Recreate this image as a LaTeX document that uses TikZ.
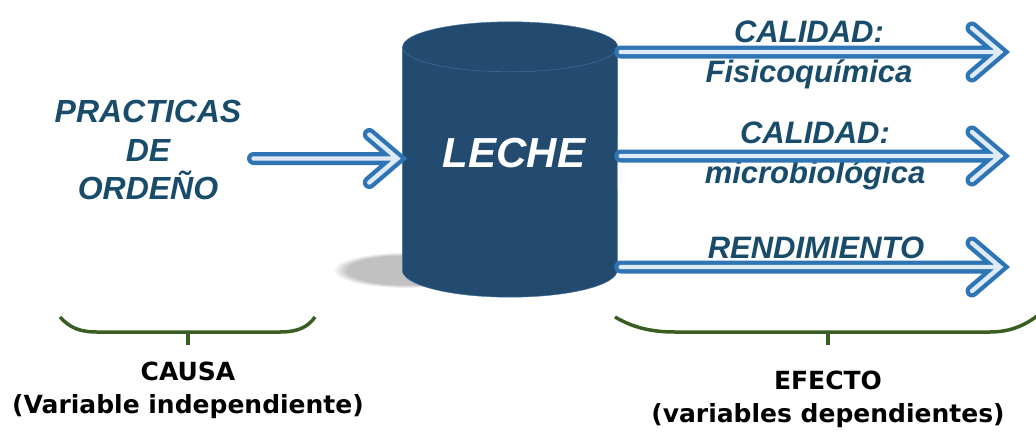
\documentclass[tikz,border=0pt]{standalone}
\usepackage{fontspec}
\usepackage{tikz}
\usetikzlibrary{fadings}
\newfontfamily\arialfont{Liberation Sans}
\newfontfamily\tahomafont{DejaVu Sans}
\definecolor{cylblue}{RGB}{35,75,112}
\definecolor{cylline}{RGB}{66,116,164}
\definecolor{arrowblue}{RGB}{46,117,182}
\definecolor{arrowfill}{RGB}{224,234,246}
\definecolor{textblue}{RGB}{24,76,106}
\definecolor{bracegreen}{RGB}{56,94,35}

\tikzset{
  dblarrow/.style={draw=arrowblue, double=arrowfill, double distance=4.4pt,
                   line width=4.3pt, line cap=round, line join=miter},
  brace/.style={draw=bracegreen, line width=3.5pt},
}

\begin{document}
\begin{tikzpicture}[x=1pt,y=-1pt]
\useasboundingbox (0,0) rectangle (1036,431);

% cylinder body (node only for anchors)
\node[minimum width=215pt, minimum height=223pt, inner sep=0pt] (leche) at (510,158.5) {};
\fill[black!35, path fading=circle with fuzzy edge 20 percent, fill opacity=0.7]
     (405,270) ellipse [x radius=72pt, y radius=18pt];
\filldraw[fill=cylblue, draw=cylline, thin]
     (leche.north west) -- (leche.south west)
     arc[start angle=180, end angle=360, x radius=107.5pt, y radius=27pt]
     -- (leche.north east)
     arc[start angle=0, end angle=180, x radius=107.5pt, y radius=25pt] -- cycle;
\draw[cylline, thin] (leche.north west)
     arc[start angle=180, end angle=360, x radius=107.5pt, y radius=25pt];
\node[font=\arialfont\bfseries\itshape\fontsize{42}{48}\selectfont, text=white,
      inner sep=0pt] (lecheTxt) at (514,153) {LECHE};

\begin{scope}[every node/.style={text=textblue, inner sep=0pt, anchor=base,
              font=\arialfont\bfseries\itshape\fontsize{31}{40}\selectfont}]
    \node[align=center, anchor=center, font=\arialfont\bfseries\itshape\fontsize{32}{38.5}\selectfont]
          (practicas) at (148,150) {PRACTICAS\\DE\\ORDEÑO};
    \node (cal1) at (809,42) {CALIDAD:};
    \node (fisico) at (809,82) {Fisicoquímica};
    \node (cal2) at (815,143) {CALIDAD:};
    \node (micro) at (815,183) {microbiológica};
    \node (rend) at (816,258) {RENDIMIENTO};
\end{scope}

% arrows
\coordinate (fisTip) at (1000,52);
\coordinate (micTip) at (1000,156);
\coordinate (renTip) at (1000,267);
\draw[dblarrow] ([xshift=12pt]practicas.east |- leche.west) -- ([xshift=-5pt]leche.west)
      ([xshift=-5pt]leche.west) ++(-28,-24) -- ([xshift=-5pt]leche.west) -- ++(-28,24);
\foreach \t in {fisTip,micTip,renTip}
    \draw[dblarrow] ([xshift=3pt]leche.east |- \t) -- (\t)
          (\t) ++(-28,-24) -- (\t) -- ++(-28,24);

% braces
\draw[brace] (60,317) .. controls (70,328) and (80,332) .. (97,332) -- (280,332)
      .. controls (298,332) and (308,327) .. (315,317);
\draw[brace] (615,317) .. controls (632,327) and (650,332) .. (675,332) -- (990,332)
      .. controls (1012,332) and (1028,324) .. (1042,312);

\begin{scope}[every node/.style={align=center, anchor=north, inner sep=0pt,
              font=\tahomafont\bfseries\fontsize{25}{33}\selectfont}]
    \node (causa) at (188,362) {CAUSA\\(Variable independiente)};
    \node (efecto) at (828,371) {EFECTO\\(variables dependientes)};
\end{scope}
\draw[brace] (188,332) -- ([yshift=17pt]causa.north);
\draw[brace] (828,332) -- ([yshift=26pt]efecto.north);
\end{tikzpicture}
\end{document}
